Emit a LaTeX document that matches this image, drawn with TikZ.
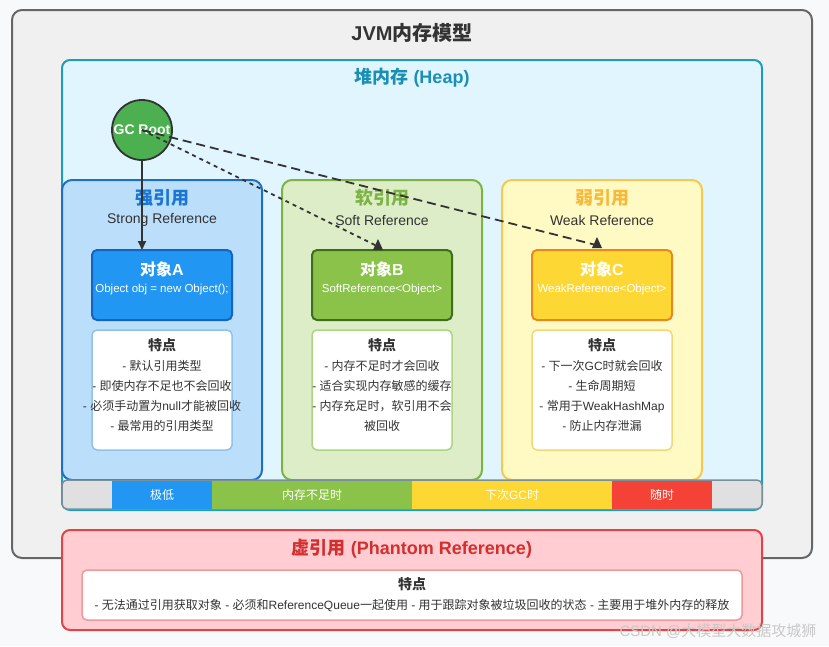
\documentclass[tikz,border=0pt]{standalone}
\usepackage{fontspec}
\setmainfont{Liberation Sans}
\newfontfamily\cjk{Noto Sans CJK SC}
\newcommand\zh[1]{{\cjk #1}}
\usetikzlibrary{arrows.meta}
\definecolor{pagebg}{HTML}{F8F9FA}
\definecolor{outerfill}{HTML}{F0F0F0}
\definecolor{outerdraw}{HTML}{666666}
\definecolor{heapfill}{HTML}{E1F5FE}
\definecolor{heapdraw}{HTML}{1E9CB8}
\definecolor{heaptext}{HTML}{1A8FB5}
\definecolor{strongfill}{HTML}{BBDEFB}
\definecolor{strongdraw}{HTML}{1F6FC0}
\definecolor{strongtext}{HTML}{1976D2}
\definecolor{objAfill}{HTML}{2196F3}
\definecolor{objAdraw}{HTML}{1565C0}
\definecolor{featAdraw}{HTML}{90C2EC}
\definecolor{softfill}{HTML}{DCEDC8}
\definecolor{softdraw}{HTML}{7CB342}
\definecolor{softtext}{HTML}{7CB342}
\definecolor{objBfill}{HTML}{8BC34A}
\definecolor{objBdraw}{HTML}{3E6E1E}
\definecolor{featBdraw}{HTML}{AED581}
\definecolor{weakfill}{HTML}{FFF9C4}
\definecolor{weakdraw}{HTML}{F5C850}
\definecolor{weaktext}{HTML}{F6B93B}
\definecolor{objCfill}{HTML}{FDD835}
\definecolor{objCdraw}{HTML}{E8891F}
\definecolor{featCdraw}{HTML}{F3D67A}
\definecolor{barfill}{HTML}{E0E0E0}
\definecolor{bardraw}{HTML}{78909C}
\definecolor{redseg}{HTML}{F44336}
\definecolor{phfill}{HTML}{FFCDD2}
\definecolor{phdraw}{HTML}{E04545}
\definecolor{phtext}{HTML}{D32F2F}
\definecolor{phinner}{HTML}{EF9A9A}
\definecolor{gcfill}{HTML}{4CAF50}
\definecolor{ink}{HTML}{333333}
\definecolor{wm}{HTML}{C8C8C8}
\begin{document}
\begin{tikzpicture}[x=1pt,y=-1pt,
  panel/.style={rounded corners=#1, inner sep=0pt, outer sep=0pt},
  catbox/.style={panel=10pt, line width=2pt, minimum width=200pt, minimum height=300pt},
  objbox/.style={panel=5pt, line width=2pt, minimum width=140pt, minimum height=70pt},
  featbox/.style={panel=5pt, line width=1.5pt, fill=white, minimum width=140pt, minimum height=120pt},
  cattitle/.style={font=\fontsize{18}{21}\selectfont\bfseries, inner sep=0pt},
  catsub/.style={font=\fontsize{14}{17}\selectfont, text=ink, inner sep=0pt},
  objtitle/.style={font=\fontsize{16}{19}\selectfont\bfseries, text=white, inner sep=0pt},
  objcode/.style={font=\fontsize{11.5}{14}\selectfont, text=white, inner sep=0pt},
  feattext/.style={font=\fontsize{12}{20}\selectfont, text=ink, align=center, anchor=north, inner sep=0pt},
  seg/.style={inner sep=0pt, minimum height=28pt, text=white, font=\fontsize{12}{14}\selectfont},
  conn/.style={draw=ink, line width=1.8pt},
  tipfill/.style={fill=ink}
]
\useasboundingbox (0,0) rectangle (829,646);
\fill[pagebg] (0,0) rectangle (829,646);

% outer JVM box
\node[panel=10pt, draw=outerdraw, fill=outerfill, line width=2pt, minimum width=800pt, minimum height=548pt] (jvm) at (412,284) {};
\node[font=\fontsize{20}{24}\selectfont\bfseries, text=ink, inner sep=0pt] (jvmtitle) at (412,33) {JVM\zh{内存模型}};

% heap
\node[panel=8pt, draw=heapdraw, fill=heapfill, line width=2pt, minimum width=700pt, minimum height=450pt] (heap) at (412,285) {};
\node[font=\fontsize{18}{21}\selectfont\bfseries, text=heaptext, inner sep=0pt] (heaptitle) at (412,78) {\zh{堆内存} (Heap)};

% strong
\node[catbox, draw=strongdraw, fill=strongfill] (strong) at (162,330) {};
\node[cattitle, text=strongtext] (strongt) at (162,198) {\zh{强引用}};
\node[catsub] (strongs) at (162,220) {Strong Reference};
\node[objbox, draw=objAdraw, fill=objAfill] (objA) at (162,285) {};
\node[objtitle] (objAt) at (162,269) {\zh{对象}A};
\node[objcode] (objAc) at (162,290) {Object obj = new Object();};
\node[featbox, draw=featAdraw] (featA) at (162,390) {};
\node[feattext] (featAt) at (162,338) {{\fontsize{14}{20}\selectfont\bfseries\zh{特点}}\\
- \zh{默认引用类型}\\
- \zh{即使内存不足也不会回收}\\
- \zh{必须手动置为}null\zh{才能被回收}\\
- \zh{最常用的引用类型}};

% soft
\node[catbox, draw=softdraw, fill=softfill] (soft) at (382,330) {};
\node[cattitle, text=softtext] (softt) at (382,198) {\zh{软引用}};
\node[catsub] (softs) at (382,220) {Soft Reference};
\node[objbox, draw=objBdraw, fill=objBfill] (objB) at (382,285) {};
\node[objtitle] (objBt) at (382,269) {\zh{对象}B};
\node[objcode] (objBc) at (382,290) {SoftReference<Object>};
\node[featbox, draw=featBdraw] (featB) at (382,390) {};
\node[feattext] (featBt) at (382,338) {{\fontsize{14}{20}\selectfont\bfseries\zh{特点}}\\
- \zh{内存不足时才会回收}\\
- \zh{适合实现内存敏感的缓存}\\
- \zh{内存充足时，软引用不会}\\
\zh{被回收}};

% weak
\node[catbox, draw=weakdraw, fill=weakfill] (weak) at (602,330) {};
\node[cattitle, text=weaktext] (weakt) at (602,198) {\zh{弱引用}};
\node[catsub] (weaks) at (602,220) {Weak Reference};
\node[objbox, draw=objCdraw, fill=objCfill] (objC) at (602,285) {};
\node[objtitle] (objCt) at (602,269) {\zh{对象}C};
\node[objcode] (objCc) at (602,290) {WeakReference<Object>};
\node[featbox, draw=featCdraw] (featC) at (602,390) {};
\node[feattext] (featCt) at (602,338) {{\fontsize{14}{20}\selectfont\bfseries\zh{特点}}\\
- \zh{下一次}GC\zh{时就会回收}\\
- \zh{生命周期短}\\
- \zh{常用于}WeakHashMap\\
- \zh{防止内存泄漏}};

% bar
\node[panel=5pt, draw=bardraw, fill=barfill, line width=1.5pt, minimum width=700pt, minimum height=29pt] (bar) at (412,494.5) {};
\node[seg, fill=objAfill, minimum width=100pt] (segA) at (162,494.5) {\zh{极低}};
\node[seg, fill=objBfill, minimum width=200pt] (segB) at (312,494.5) {\zh{内存不足时}};
\node[seg, fill=objCfill, minimum width=200pt] (segC) at (512,494.5) {\zh{下次}GC\zh{时}};
\node[seg, fill=redseg, minimum width=100pt] (segD) at (662,494.5) {\zh{随时}};

% phantom
\node[panel=8pt, draw=phdraw, fill=phfill, line width=2pt, minimum width=700pt, minimum height=100pt] (ph) at (412,580) {};
\node[font=\fontsize{18}{21}\selectfont\bfseries, text=phtext, inner sep=0pt] (pht) at (412,549) {\zh{虚引用} (Phantom Reference)};
\node[panel=5pt, draw=phinner, fill=white, line width=1.5pt, minimum width=660pt, minimum height=50pt] (phin) at (412,595) {};
\node[font=\fontsize{14}{16}\selectfont\bfseries, text=ink, inner sep=0pt] (phint) at (412,584) {\zh{特点}};
\node[font=\fontsize{12}{14}\selectfont, text=ink, inner sep=0pt] (phinl) at (412,606) {- \zh{无法通过引用获取对象} - \zh{必须和}ReferenceQueue\zh{一起使用} - \zh{用于跟踪对象被垃圾回收的状态} - \zh{主要用于堆外内存的释放}};

% GC root
\node[circle, draw=ink, fill=gcfill, line width=1.8pt, minimum size=60pt, inner sep=0pt] (gc) at (142,130) {};
\node[font=\fontsize{14}{16}\selectfont\bfseries, text=white, inner sep=0pt] (gct) at (142,130) {GC Root};

% connectors
\draw[conn, -{Triangle[length=9pt,width=8pt]}] (gc.south) -- (gc.south |- objA.north);
\coordinate (endB) at ([shift={(-5,-4)}]objB.north);
\coordinate (endC) at ([shift={(-6,-5)}]objC.north);
\draw[conn, dash pattern=on 4pt off 4pt] (gc.center) -- (endB);
\draw[conn, dash pattern=on 9pt off 5pt] (gc.center) -- (endC);
\fill[tipfill] ([shift={(-4,-11)}]objB.north) -- ([shift={(-9,0)}]objB.north) -- ([shift={(1,0)}]objB.north) -- cycle;
\fill[tipfill] ([shift={(-5,-13)}]objC.north) -- ([shift={(-10,-2)}]objC.north) -- ([shift={(0,-2)}]objC.north) -- cycle;

% watermark
\node[font=\fontsize{15}{18}\selectfont, text=wm, inner sep=0pt] (wmk) at (718,631) {CSDN @\zh{大模型大数据攻城狮}};
\end{tikzpicture}
\end{document}
